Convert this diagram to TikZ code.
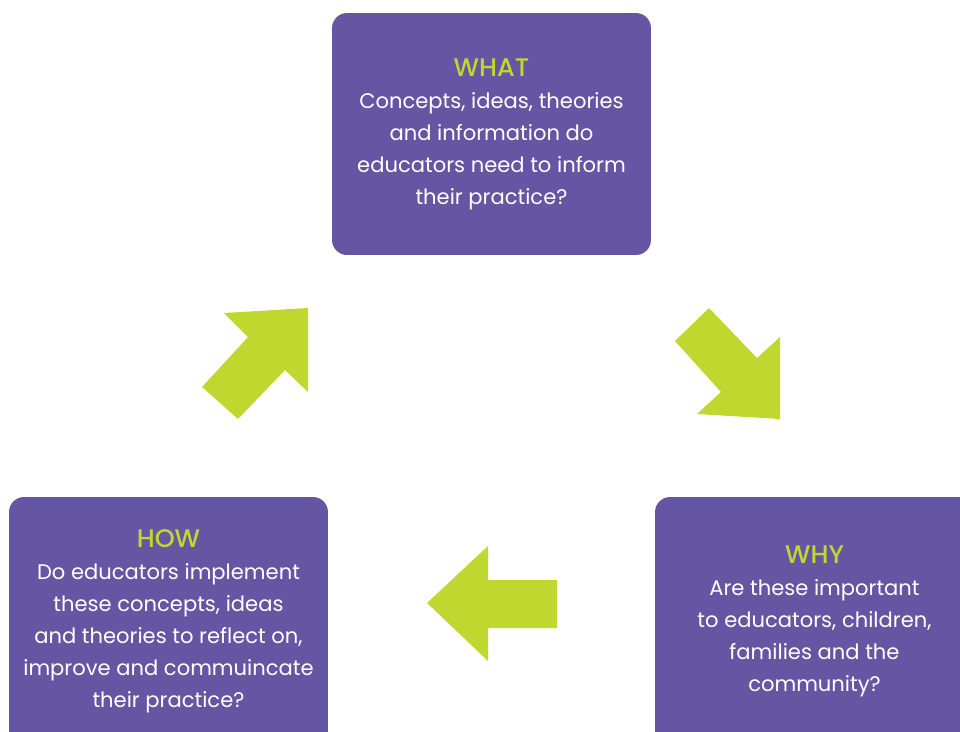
\documentclass[tikz,border=0pt]{standalone}
\usepackage{fontspec}
\setmainfont{Poppins}
\newfontfamily\titlefont{Poppins}[UprightFont=* Medium]

\definecolor{boxpurple}{HTML}{6556A3}
\definecolor{arrowlime}{HTML}{C0D72F}

\newcommand{\boxtitle}[1]{{\color{arrowlime}\titlefont\fontsize{14.5}{18.2}\selectfont #1}}

\begin{document}
\begin{tikzpicture}[x=0.02cm,y=-0.02cm,
    cyclearrow/.style={fill=arrowlime}]

      \useasboundingbox (0,0) rectangle (960,731);
      \clip (0,0) rectangle (960,731);

      \begin{scope}[every node/.style={rectangle,rounded corners=0.3cm,fill=boxpurple,
          text=white,align=center,minimum width=6.38cm,
          font=\fontsize{12}{18.2}\selectfont}]
        \node[minimum height=4.84cm] (what) at (491.5,134) {\boxtitle{WHAT}\\
          Concepts, ideas, theories\\
          and information do\\
          educators need to inform\\
          their practice?};
        \node[minimum height=4.96cm] (why) at (814.5,621) {\boxtitle{WHY}\\
          Are these important\\
          to educators, children,\\
          families and the\\
          community?};
        \node[minimum height=4.96cm] (how) at (168.5,621) {\boxtitle{HOW}\\
          Do educators implement\\
          these concepts, ideas\\
          and theories to reflect on,\\
          improve and commuincate\\
          their practice?};
      \end{scope}

      \fill[cyclearrow] (709,308) -- (675,341) -- (721,392) -- (697,414)
        -- (780,419) -- (780,337) -- (757,358) -- cycle;
      \fill[cyclearrow] (427,603) -- (488,546) -- (488,580) -- (557,580)
        -- (557,628) -- (488,628) -- (488,661) -- cycle;
      \fill[cyclearrow] (308,308) -- (224,313) -- (248,337) -- (202,387)
        -- (238,419) -- (285,370) -- (308,392) -- cycle;

    \end{tikzpicture}
\end{document}
